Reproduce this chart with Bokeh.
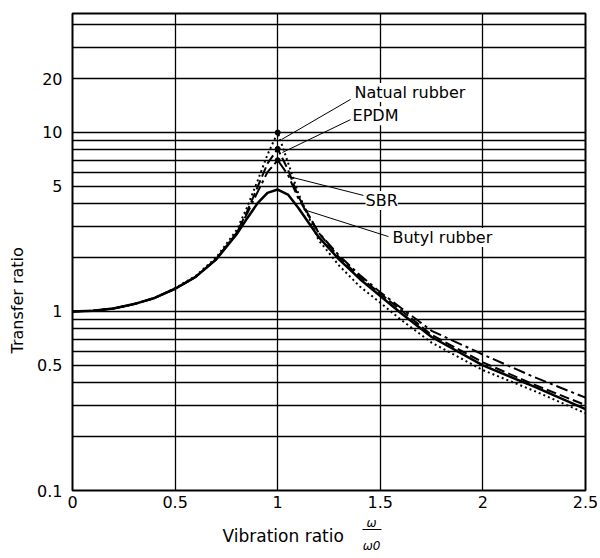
from bokeh.plotting import figure
from bokeh.layouts import column
from bokeh.models import FixedTicker, Label, CustomJSTickFormatter, Range1d
from bokeh.core.properties import value
from bokeh.embed import file_html
from bokeh.resources import INLINE

# ---- data ----
vibration_ratio = [0, 0.1, 0.2, 0.3, 0.4, 0.5, 0.6, 0.7, 0.8, 0.85, 0.9, 0.95, 1.0,
                   1.05, 1.1, 1.2, 1.3, 1.4, 1.5, 1.6, 1.75, 2.0, 2.25, 2.5]
natual_rubber = [1.0, 1.01, 1.04, 1.10, 1.19, 1.35, 1.58, 2.0, 2.85, 3.8, 5.3, 7.5, 10.0,
                 6.8, 4.6, 2.5, 1.8, 1.38, 1.12, 0.9, 0.67, 0.47, 0.36, 0.27]
epdm = [1.0, 1.01, 1.04, 1.10, 1.19, 1.34, 1.56, 1.96, 2.75, 3.6, 4.9, 6.7, 8.1,
        6.2, 4.4, 2.75, 2.0, 1.56, 1.26, 1.02, 0.74, 0.52, 0.39, 0.30]
sbr = [1.0, 1.01, 1.04, 1.10, 1.19, 1.34, 1.56, 1.96, 2.75, 3.5, 4.6, 6.0, 7.0,
       5.8, 4.3, 2.75, 2.05, 1.6, 1.28, 1.05, 0.78, 0.575, 0.43, 0.33]
butyl_rubber = [1.0, 1.01, 1.04, 1.10, 1.19, 1.34, 1.56, 1.95, 2.7, 3.3, 4.0, 4.6, 4.8,
                4.5, 3.8, 2.6, 1.95, 1.52, 1.22, 0.98, 0.72, 0.50, 0.38, 0.285]

x_ticks = [0, 0.5, 1, 1.5, 2, 2.5]
y_ticks = [0.1, 0.5, 1, 5, 10, 20]
y_grid = [0.1, 0.2, 0.3, 0.4, 0.5, 0.6, 0.7, 0.8, 0.9,
          1, 2, 3, 4, 5, 6, 7, 8, 9, 10, 20, 30, 40]
x_grid = [0.5, 1, 1.5, 2]

FONT = "DejaVu Sans"
W = 598

p = figure(width=W, height=516, output_backend="svg", toolbar_location=None,
           y_axis_type="log", x_range=Range1d(0, 2.5), y_range=Range1d(0.1, 46.2),
           min_border_left=72, min_border_right=13, min_border_top=13, min_border_bottom=26)

p.background_fill_color = "white"
p.border_fill_color = "white"
p.outline_line_color = "black"
p.outline_line_width = 2

# grids
p.xgrid.ticker = FixedTicker(ticks=x_grid)
p.ygrid.ticker = FixedTicker(ticks=y_grid)
for g in (p.xgrid, p.ygrid):
    g.grid_line_color = "black"
    g.grid_line_width = 1.3
    g.grid_line_alpha = 1.0

# axes
p.xaxis.ticker = FixedTicker(ticks=x_ticks)
p.yaxis.ticker = FixedTicker(ticks=y_ticks)
p.xaxis.formatter = CustomJSTickFormatter(code="return tick.toString();")
p.yaxis.formatter = CustomJSTickFormatter(code="return tick.toString();")
for ax in (p.xaxis, p.yaxis):
    ax.axis_line_color = None
    ax.major_tick_line_color = None
    ax.minor_tick_line_color = None
    ax.major_tick_out = 0
    ax.major_tick_in = 0
    ax.minor_tick_out = 0
    ax.minor_tick_in = 0
    ax.major_label_text_font = FONT
    ax.major_label_text_font_size = "16px"
    ax.major_label_text_color = "black"
p.yaxis.major_label_standoff = 10
p.xaxis.major_label_standoff = 5
# trailing non-breaking spaces shift the visible title below the frame's centre, as in the original
p.yaxis.axis_label = "Transfer ratio" + "\u00a0" * 19
p.yaxis.axis_label_text_font = FONT
p.yaxis.axis_label_text_font_size = "16px"
p.yaxis.axis_label_text_font_style = "normal"
p.yaxis.axis_label_text_color = "black"
p.yaxis.axis_label_standoff = 7

# curves
p.line(vibration_ratio, natual_rubber, line_color="black", line_width=2, line_dash="2 3")
p.line(vibration_ratio, epdm, line_color="black", line_width=2, line_dash="10 4")
p.line(vibration_ratio, sbr, line_color="black", line_width=2, line_dash="12 4 3 4")
p.line(vibration_ratio, butyl_rubber, line_color="black", line_width=2.5)

# peak dots
i_peak = vibration_ratio.index(1.0)
p.scatter([vibration_ratio[i_peak]] * 3,
          [natual_rubber[i_peak], epdm[i_peak], sbr[i_peak]],
          size=5, color="black")

# annotations: leader lines and texts
leaders = [
    ((1.019, 1.355), (9.14, 15.3)),
    ((1.023, 1.355), (7.73, 11.8)),
    ((1.053, 1.418), (5.68, 4.45)),
    ((1.126, 1.540), (3.71, 2.62)),
]
for xs, ys in leaders:
    p.line(list(xs), list(ys), line_color="black", line_width=1)

texts = [
    (1.374, 16.7, "Natual rubber"),
    (1.365, 12.4, "EPDM"),
    (1.428, 4.17, "SBR"),
    (1.559, 2.59, "Butyl rubber"),
]
for tx, ty, tt in texts:
    p.add_layout(Label(x=tx, y=ty, text=tt, text_font=FONT, text_font_size="16px",
                       text_baseline="middle", text_align="left", text_color="black",
                       background_fill_color="white"))

# ---- x-axis title strip (shares the x scale of the chart) ----
H2 = 36
q = figure(width=W, height=H2, output_backend="svg", toolbar_location=None,
           x_range=p.x_range, y_range=Range1d(0, H2),
           min_border_left=72, min_border_right=13, min_border_top=0, min_border_bottom=0)
q.axis.visible = False
q.grid.visible = False
q.outline_line_color = None
q.background_fill_color = "white"
q.border_fill_color = "white"
q.text(x=[0.731], y=[17], text=["Vibration ratio"], text_font=value(FONT),
       text_font_size="17px", text_baseline="middle", text_align="left", text_color="black")
q.text(x=[1.457], y=[30], text=["ω"], text_font=value(FONT), text_font_style="italic",
       text_font_size="12px", text_baseline="middle", text_align="center", text_color="black")
q.segment(x0=[1.413], y0=[23], x1=[1.506], y1=[23], line_color="black", line_width=1)
q.text(x=[1.457], y=[7], text=["ω0"], text_font=value(FONT), text_font_style="italic",
       text_font_size="12px", text_baseline="middle", text_align="center", text_color="black")

layout = column(p, q, spacing=0)
open("out.html", "w").write(file_html(layout, INLINE))
